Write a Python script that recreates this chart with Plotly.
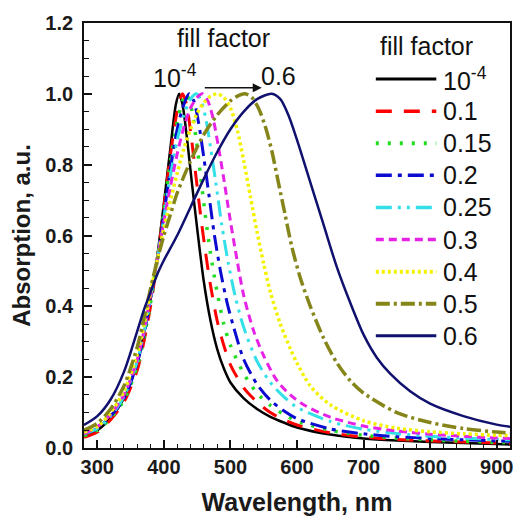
import plotly.graph_objects as go

# Normalised absorption spectra for increasing fill factor
labels = ["10<sup>-4</sup>", "0.1", "0.15", "0.2", "0.25", "0.3", "0.4", "0.5", "0.6"]
colors = ["#000000", "#ff0000", "#22dd22", "#0a0ad0", "#33e0e8",
          "#e622e6", "#f2f200", "#85851a", "#10106e"]
dashes = ["solid", "16px,12px", "3px,9px", "16px,6px,4px,6px",
          "16px,6px,3px,6px,3px,6px", "8px,5px", "3px,3px",
          "14px,4px,3px,4px", "solid"]
widths = [2.5, 3, 3.5, 3, 3, 3, 3.5, 3.5, 2.5]

wl_ff0001 = [280, 300, 320, 340, 360, 370, 380, 390, 400, 410, 418, 423, 428, 435, 442, 450,
             460, 470, 480, 490, 500, 520, 540, 560, 580, 600, 650, 700, 750, 800, 850, 900, 920]
ab_ff0001 = [.035, .05, .085, .14, .24, .32, .42, .54, .69, .85, .97, 1.0, .97, .87, .75, .62,
             .47, .36, .28, .225, .185, .14, .11, .088, .072, .058, .038, .027, .021, .017, .014, .011, .010]

wl_ff01 = [280, 300, 320, 340, 360, 370, 380, 390, 400, 410, 420, 428, 434, 441, 448, 455,
           462, 470, 480, 490, 500, 520, 540, 560, 580, 600, 650, 700, 750, 800, 850, 900, 920]
ab_ff01 = [.03, .045, .08, .13, .22, .30, .40, .53, .68, .83, .95, 1.0, .97, .88, .77, .66,
           .56, .46, .36, .29, .235, .17, .13, .10, .08, .065, .043, .031, .024, .02, .017, .014, .013]

wl_ff015 = [280, 300, 320, 340, 360, 370, 380, 390, 400, 410, 420, 428, 433, 440, 448, 455,
            462, 470, 480, 490, 500, 520, 540, 560, 580, 600, 650, 700, 750, 800, 850, 900, 920]
ab_ff015 = [.035, .05, .085, .135, .23, .31, .41, .53, .67, .81, .92, .98, 1.0, .97, .88, .77,
            .66, .55, .44, .35, .29, .21, .155, .12, .095, .076, .05, .036, .028, .023, .019, .016, .015]

wl_ff02 = [280, 300, 320, 340, 360, 370, 380, 390, 400, 410, 420, 430, 438, 445, 452, 460,
           468, 476, 485, 495, 505, 520, 540, 560, 580, 600, 650, 700, 750, 800, 850, 900, 920]
ab_ff02 = [.04, .055, .09, .14, .24, .32, .42, .53, .66, .79, .90, .97, 1.0, .98, .92, .82,
           .71, .60, .50, .41, .34, .25, .18, .135, .105, .083, .054, .04, .032, .027, .023, .02, .019]

wl_ff025 = [280, 300, 320, 340, 360, 370, 380, 390, 400, 410, 420, 430, 440, 449, 456, 463,
            470, 478, 487, 497, 507, 520, 540, 560, 580, 600, 650, 700, 750, 800, 850, 900, 920]
ab_ff025 = [.04, .055, .09, .145, .245, .325, .425, .53, .65, .77, .87, .94, .985, 1.0, .98, .93,
            .85, .75, .63, .52, .43, .34, .245, .185, .145, .115, .075, .053, .041, .033, .028, .024, .023]

wl_ff03 = [280, 300, 320, 340, 360, 370, 380, 390, 400, 410, 420, 430, 440, 450, 458, 466,
           474, 482, 490, 500, 510, 520, 535, 550, 570, 590, 610, 650, 700, 750, 800, 850, 900, 920]
ab_ff03 = [.04, .06, .095, .15, .25, .33, .43, .53, .64, .74, .83, .905, .96, .99, 1.0, .98,
           .93, .85, .76, .64, .53, .43, .33, .26, .19, .15, .122, .087, .062, .048, .039, .033, .028, .027]

wl_ff04 = [280, 300, 320, 340, 360, 370, 380, 390, 400, 410, 420, 430, 440, 450, 460, 470,
           480, 490, 500, 510, 520, 530, 540, 550, 560, 575, 590, 600, 620, 650, 700, 750, 800, 850, 900, 920]
ab_ff04 = [.045, .06, .10, .16, .265, .345, .44, .53, .62, .70, .775, .845, .90, .945, .975, .993,
           1.0, .99, .96, .90, .81, .71, .61, .52, .44, .35, .28, .24, .175, .122, .077, .056, .046, .04, .036, .035]

wl_ff05 = [280, 300, 320, 340, 360, 370, 380, 390, 400, 410, 420, 440, 460, 480, 500, 512,
           522, 532, 542, 552, 562, 572, 582, 592, 605, 620, 640, 660, 680, 700, 750, 800, 850, 900, 920]
ab_ff05 = [.05, .07, .11, .175, .285, .365, .45, .53, .60, .66, .72, .81, .885, .94, .98, .995,
           1.0, .99, .96, .91, .84, .75, .66, .57, .48, .40, .31, .24, .19, .155, .10, .072, .055, .045, .042]

wl_ff06 = [280, 300, 320, 340, 360, 370, 380, 390, 400, 410, 420, 440, 460, 480, 500, 520,
           540, 562, 575, 587, 600, 620, 640, 660, 680, 700, 720, 740, 770, 800, 850, 900, 920]
ab_ff06 = [.065, .09, .137, .215, .33, .39, .44, .49, .53, .565, .60, .68, .76, .835, .90, .95,
           .985, 1.0, .985, .94, .87, .75, .63, .51, .41, .32, .255, .21, .16, .125, .09, .066, .06]

wavelengths = [wl_ff0001, wl_ff01, wl_ff015, wl_ff02, wl_ff025, wl_ff03, wl_ff04, wl_ff05, wl_ff06]
absorptions = [ab_ff0001, ab_ff01, ab_ff015, ab_ff02, ab_ff025, ab_ff03, ab_ff04, ab_ff05, ab_ff06]

FONT = "Liberation Sans, Arial, sans-serif"

fig = go.Figure()
for name, x, y, c, d, w in zip(labels, wavelengths, absorptions, colors, dashes, widths):
    fig.add_trace(go.Scatter(
        x=x, y=y, mode="lines", name=name, showlegend=False,
        line=dict(color=c, dash=d, width=w, shape="spline", smoothing=0.8),
    ))

# Legend drawn as keys + labels inside the plot frame
leg_x0, leg_x1, leg_text = 0.685, 0.827, 0.837
leg_top, leg_step = 0.868, 0.0755
shapes = []
annotations = [dict(xref="paper", yref="paper", x=0.690, y=0.945, text="fill factor",
                    showarrow=False, xanchor="left", yanchor="middle",
                    font=dict(family=FONT, size=25, color="#111"))]
for i, (name, c, d, w) in enumerate(zip(labels, colors, dashes, widths)):
    yy = leg_top - i * leg_step
    shapes.append(dict(type="line", xref="paper", yref="paper", x0=leg_x0, x1=leg_x1,
                       y0=yy, y1=yy, line=dict(color=c, dash=d, width=w + 0.5)))
    annotations.append(dict(xref="paper", yref="paper", x=leg_text, y=yy, text=name,
                            showarrow=False, xanchor="left", yanchor="middle",
                            font=dict(family=FONT, size=25, color="#111")))

# Shift indicator
annotations += [
    dict(x=489, y=1.158, text="fill factor", showarrow=False,
         font=dict(family=FONT, size=25, color="#111")),
    dict(x=417, y=1.05, text="10<sup>-4</sup>", showarrow=False,
         font=dict(family=FONT, size=25, color="#111")),
    dict(x=572, y=1.05, text="0.6", showarrow=False,
         font=dict(family=FONT, size=25, color="#111")),
    dict(x=547, y=1.017, ax=457, ay=1.017, xref="x", yref="y", axref="x", ayref="y",
         text=" ", showarrow=True, arrowhead=2, arrowsize=1.2, arrowwidth=1.5, arrowcolor="#111"),
]

fig.update_layout(
    width=517, height=523,
    margin=dict(l=84, r=4, t=23, b=75),
    paper_bgcolor="white", plot_bgcolor="white",
    showlegend=False,
    shapes=shapes, annotations=annotations,
    xaxis=dict(range=[280, 920], tickvals=[300, 400, 500, 600, 700, 800, 900],
               ticks="inside", ticklen=8, tickwidth=1.5, tickcolor="#111",
               minor=dict(dtick=20, tick0=300, ticks="inside", ticklen=4, tickwidth=1.2, tickcolor="#111"),
               showline=True, linecolor="#111", linewidth=1.8, mirror=True,
               showgrid=False, zeroline=False,
               tickfont=dict(family=FONT, size=20, color="#1a1a1a", weight="bold"),
               title=dict(text="Wavelength, nm", standoff=17,
                          font=dict(family=FONT, size=25, color="#1a1a1a", weight="bold"))),
    yaxis=dict(range=[0, 1.2], dtick=0.2, tickformat=".1f",
               ticks="inside", ticklen=8, tickwidth=1.5, tickcolor="#111",
               minor=dict(dtick=0.05, ticks="inside", ticklen=5, tickwidth=1.2, tickcolor="#111"),
               showline=True, linecolor="#111", linewidth=1.8, mirror=True,
               showgrid=False, zeroline=False, ticklabelstandoff=5,
               tickfont=dict(family=FONT, size=20, color="#1a1a1a", weight="bold"),
               title=dict(text="Absorption, a.u.", standoff=8,
                          font=dict(family=FONT, size=24, color="#1a1a1a", weight="bold"))),
)

fig.write_html("out.html")
